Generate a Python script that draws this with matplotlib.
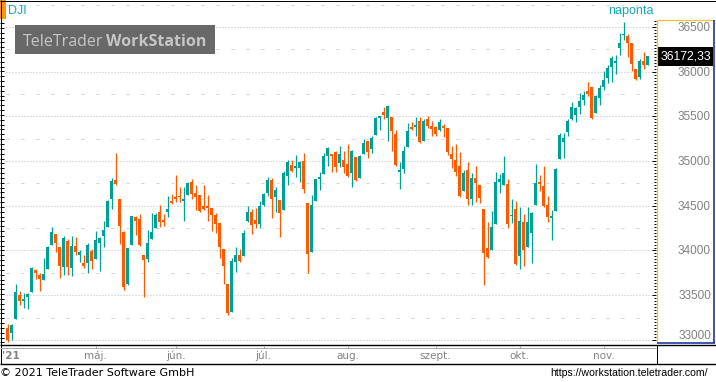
import matplotlib
matplotlib.use("Agg")
import matplotlib.pyplot as plt
import numpy as np
from matplotlib.lines import Line2D
from matplotlib.patches import Rectangle

# Daily candles (DJI, end of March .. mid November 2021)
opens = [33130, 33077, 33237, 33502, 33439, 33484, 33539, 33782, 33722, 33670,
         33797, 34065, 34185, 34039, 33819, 34106, 33808, 34050, 33946, 33860,
         33864, 33994, 33909, 34088, 34166, 34259, 34580, 34790, 34576, 34211,
         33629, 34058, 34375, 34353, 33950, 33909, 34133, 34256, 34431, 34341,
         34435, 34554, 34591, 34610, 34558, 34625, 34770, 34643, 34621, 34498,
         34498, 34476, 34401, 34308, 34017, 33625, 33316, 33875, 33950, 33942,
         34327, 34431, 34341, 34297, 34513, 34647, 34789, 34602, 34565, 34453,
         34837, 34957, 34927, 34927, 35002, 34532, 33987, 34558, 34804, 34860,
         35061, 35080, 35102, 34983, 35013, 34968, 34871, 35046, 34815, 35084,
         35225, 35140, 35296, 35486, 35550, 35486, 35494, 35304, 34882, 34912,
         35162, 35382, 35386, 35449, 35225, 35471, 35393, 35382, 35348, 35393,
         35371, 35080, 35013, 34946, 34666, 34901, 34576, 34811, 34733, 34464,
         34028, 34009, 34300, 34766, 34736, 34744, 34382, 34464, 33938, 34318,
         34039, 34195, 34509, 34755, 34721, 34509, 34367, 34442, 35023, 35214,
         35326, 35471, 35516, 35605, 35684, 35784, 35829, 35538, 35710, 35829,
         35930, 36053, 36101, 36265, 36410, 36404, 36318, 36027, 35944, 36120,
         36075]
highs = [33180, 33178, 33625, 33547, 33521, 33521, 33812, 33797, 33745, 33916,
         34050, 34263, 34185, 34039, 34162, 34129, 34162, 34151, 34006, 33950,
         34084, 34017, 34222, 34155, 34330, 34565, 34811, 35091, 34576, 34222,
         34028, 34386, 34386, 34412, 33950, 34230, 34423, 34423, 34509, 34409,
         34610, 34632, 34850, 34711, 34714, 34770, 34800, 34733, 34621, 34733,
         34621, 34476, 34423, 34308, 34017, 33625, 33916, 34039, 34017, 34230,
         34498, 34468, 34476, 34550, 34647, 34819, 34811, 34707, 34565, 34893,
         35013, 35013, 35069, 35005, 35091, 34532, 34621, 34800, 34878, 35091,
         35158, 35080, 35113, 35169, 35113, 35192, 35125, 35046, 35069, 35248,
         35225, 35281, 35490, 35505, 35606, 35628, 35494, 35348, 34990, 35169,
         35427, 35438, 35494, 35494, 35471, 35505, 35449, 35393, 35471, 35419,
         35371, 35169, 35192, 35102, 34901, 34990, 34867, 34946, 34733, 34464,
         34319, 34442, 34878, 34856, 35057, 34800, 34576, 34553, 34486, 34408,
         34486, 34430, 34967, 34844, 34945, 34609, 34453, 34923, 35314, 35311,
         35471, 35661, 35605, 35762, 35784, 35885, 35829, 35740, 35851, 36008,
         36075, 36176, 36187, 36430, 36553, 36423, 36318, 36027, 36139, 36225,
         36176]
lows = [32980, 33000, 33237, 33390, 33360, 33349, 33539, 33677, 33551, 33670,
        33797, 34065, 33987, 33696, 33726, 33726, 33715, 33950, 33875, 33808,
        33752, 33793, 33909, 33774, 34043, 34259, 34468, 34737, 34077, 33562,
        33618, 34058, 34177, 34054, 33484, 33875, 34133, 34256, 34267, 34278,
        34379, 34520, 34543, 34547, 34334, 34625, 34580, 34453, 34435, 34453,
        34334, 34222, 34200, 33920, 33629, 33275, 33316, 33759, 33871, 33942,
        34315, 34185, 34256, 34256, 34498, 34610, 34364, 34431, 34155, 34453,
        34737, 34878, 34826, 34766, 34647, 33752, 33987, 34558, 34681, 34860,
        34949, 34878, 34878, 34938, 34867, 34822, 34714, 34778, 34811, 35084,
        35035, 35091, 35296, 35352, 35471, 35229, 35113, 34946, 34688, 34867,
        35162, 35348, 35281, 35207, 35225, 35375, 35285, 35285, 35341, 35274,
        35065, 34927, 34834, 34602, 34666, 34513, 34513, 34546, 34528, 33618,
        33916, 34009, 34300, 34647, 34736, 34255, 34311, 33837, 33792, 33826,
        34039, 33860, 34509, 34665, 34486, 34318, 34117, 34442, 35023, 35035,
        35281, 35460, 35437, 35527, 35628, 35728, 35471, 35538, 35628, 35795,
        35878, 35885, 35975, 36187, 36355, 36169, 36012, 35908, 35924, 36027,
        36075]
closes = [33000, 33166, 33536, 33435, 33446, 33513, 33804, 33752, 33685, 33737,
          34039, 34207, 34088, 33827, 34140, 33819, 34050, 33987, 33983, 33830,
          34062, 33886, 34118, 34144, 34230, 34558, 34780, 34748, 34278, 33595,
          34028, 34386, 34334, 34062, 33898, 34084, 34207, 34397, 34319, 34323,
          34465, 34528, 34580, 34599, 34576, 34759, 34632, 34603, 34442, 34468,
          34476, 34401, 34300, 34043, 33827, 33297, 33883, 33950, 33879, 34196,
          34431, 34289, 34300, 34498, 34632, 34789, 34580, 34677, 34423, 34867,
          34990, 34893, 34934, 34990, 34692, 33965, 34509, 34800, 34823, 35057,
          35147, 35061, 34938, 35080, 34934, 34837, 35113, 34789, 35057, 35203,
          35102, 35259, 35483, 35498, 35516, 35617, 35337, 34957, 34893, 35113,
          35337, 35360, 35404, 35214, 35449, 35393, 35360, 35304, 35438, 35375,
          35102, 35024, 34878, 34610, 34867, 34576, 34811, 34755, 34588, 33976,
          33927, 34263, 34766, 34800, 34867, 34300, 34390, 33848, 34330, 34005,
          34318, 34419, 34755, 34747, 34498, 34374, 34374, 34911, 35292, 35258,
          35449, 35605, 35594, 35672, 35740, 35751, 35478, 35728, 35818, 35907,
          36042, 36154, 36120, 36321, 36425, 36318, 36083, 35919, 36124, 36072,
          36172]

last_price = 36172.33
month_labels = ["máj.", "jún.", "júl.", "aug.", "szept.", "okt.", "nov."]
month_starts = [22, 42, 64, 85, 107, 128, 149]
price_ticks = [33000, 33500, 34000, 34500, 35000, 35500, 36000, 36500]

UP = "#00a096"
DOWN = "#ff5a00"
TITLE_C = "#17a8b6"
GREY = "#828282"

W, H = 716, 382
fig = plt.figure(figsize=(W / 100, H / 100), dpi=100)


def fx(x):
    return x / W


def fy(y):
    return 1 - y / H


def fline(x0, y0, x1, y1, color="black", lw=1.0, **kw):
    fig.add_artist(Line2D([fx(x0), fx(x1)], [fy(y0), fy(y1)],
                          color=color, lw=lw * 0.72, solid_capstyle="butt", **kw))


# value -> pixel row, same scale as the main axes
Y0, PX_PER_PT = 250.5, 1 / 11.19


def ypx(v):
    return Y0 - (v - 34000) * PX_PER_PT


# main chart area: x 0..656 px, y 0..345 px
ax = fig.add_axes([0, fy(345), fx(656), 345 / H])
ax.set_xlim(-7.5 / 4, (656 - 7.5) / 4)
ax.set_ylim(34000 - (345 - Y0) / PX_PER_PT, 34000 + Y0 / PX_PER_PT)
for s in ["top", "right", "bottom", "left"]:
    ax.spines[s].set_visible(False)
ax.set_xticks([])
ax.set_yticks([])

# grid
for v in price_ticks:
    ax.axhline(v, xmin=6 / 656, xmax=652 / 656, color="#bebebe", lw=0.72,
               ls=(0, (1, 2)), zorder=1)
    ax.axhline(v + 250, xmin=6 / 656, xmax=652 / 656, color="#d4d4d4",
               lw=0.72, ls=(0, (3, 12)), zorder=1)

# candles
idx = np.arange(len(closes))
o = np.array(opens)
c = np.array(closes)
colors = np.where(c >= o, UP, DOWN)
ax.vlines(idx, lows, highs, colors=colors, lw=0.9, zorder=2)
body_h = np.maximum(np.abs(c - o), 14)
ax.bar(idx, body_h, bottom=np.minimum(o, c), width=0.75, color=colors,
       linewidth=0, zorder=3)

# watermark
fig.add_artist(Rectangle((fx(15), fy(54)), fx(200), 29 / H,
                         facecolor="#686868", edgecolor="none", zorder=0.5))
fig.text(fx(23), fy(46), "TeleTrader", family="Open Sans", fontsize=11.5,
         color="#c6c6c6", va="baseline", zorder=0.6)
fig.text(fx(106), fy(46), "WorkStation", family="Open Sans", fontsize=11.5,
         fontweight="bold", color="#c6c6c6", va="baseline", zorder=0.6)

# title marker
fig.add_artist(Rectangle((0, fy(19)), fx(5.5), 19 / H, facecolor="#f7941d",
                         edgecolor="none"))
fig.text(fx(8), fy(10.5), "DJI", family="Liberation Sans", fontsize=9,
         color=TITLE_C, va="center")
fig.text(fx(631), fy(11), "naponta", family="Liberation Sans", fontsize=9,
         color=TITLE_C, va="center", ha="center")

# left edge ticks
for yy in np.arange(23, 345, 4.84):
    fline(0, yy, 4, yy, "black", 1)

# right price panel
for v in np.arange(33000 - 500 / 15 * 2, 36700, 500 / 15):
    yy = ypx(v)
    if 21 < yy < 342:
        major = abs(v % 500) < 1 or abs(v % 500 - 500) < 1
        fline(652 if major else 654, yy, 656.2, yy, "black", 1)
fline(657, 20, 714, 20, "#f0c43a", 1.3)
fline(657, 20, 657, 342.5, "#f0c43a", 1.3)
fline(713.6, 20, 713.6, 342.5, "#1a2fa0", 1.6)
fline(657, 342.5, 714.5, 342.5, "#1a2fa0", 1.6)
for v in price_ticks:
    fig.text(fx(711), fy(min(ypx(v) + 0.8, 336)), f"{v}",
             family="Liberation Sans", fontsize=8.5, color=GREY,
             ha="right", va="center")
py = ypx(last_price)
fig.add_artist(Rectangle((fx(658), fy(py + 9.5)), fx(55), 19 / H,
                         facecolor="black", edgecolor="none"))
fig.text(fx(686), fy(py + 0.5), f"{last_price:.2f}".replace(".", ","),
         family="Liberation Sans", fontsize=8.8, color="white",
         ha="center", va="center")

# frame and time strip
fline(0, 0.5, 716, 0.5)
fline(0.5, 0, 0.5, 364)
fline(715.5, 0, 715.5, 364)
fline(0, 345.3, 716, 345.3, "black", 1.4)
fline(0, 347.8, 656, 347.8, "#a8a8a8", 1)
fline(0, 363.8, 716, 363.8, "black", 1.4)
fline(656.5, 345, 656.5, 364)
fig.text(fx(2), fy(356), "'21", family="DejaVu Sans", fontsize=7.5,
         fontweight="bold", color=GREY, va="center")
for lab, n in zip(month_labels, month_starts):
    xp = 7.5 + 4 * n
    fline(xp, 345.5, xp, 348, "#a0a0a0", 1)
    fig.text(fx(xp), fy(356), lab, family="DejaVu Sans", fontsize=7.5,
             color=GREY, ha="center", va="center")

fig.text(fx(0), fy(372.5), "© 2021 TeleTrader Software GmbH",
         family="DejaVu Sans", fontsize=8, color="black", va="center")
fig.text(fx(708), fy(372.5), "https://workstation.teletrader.com/",
         family="Liberation Sans", fontsize=7.6, color="black",
         ha="right", va="center")

fig.savefig("out.png", dpi=100)
